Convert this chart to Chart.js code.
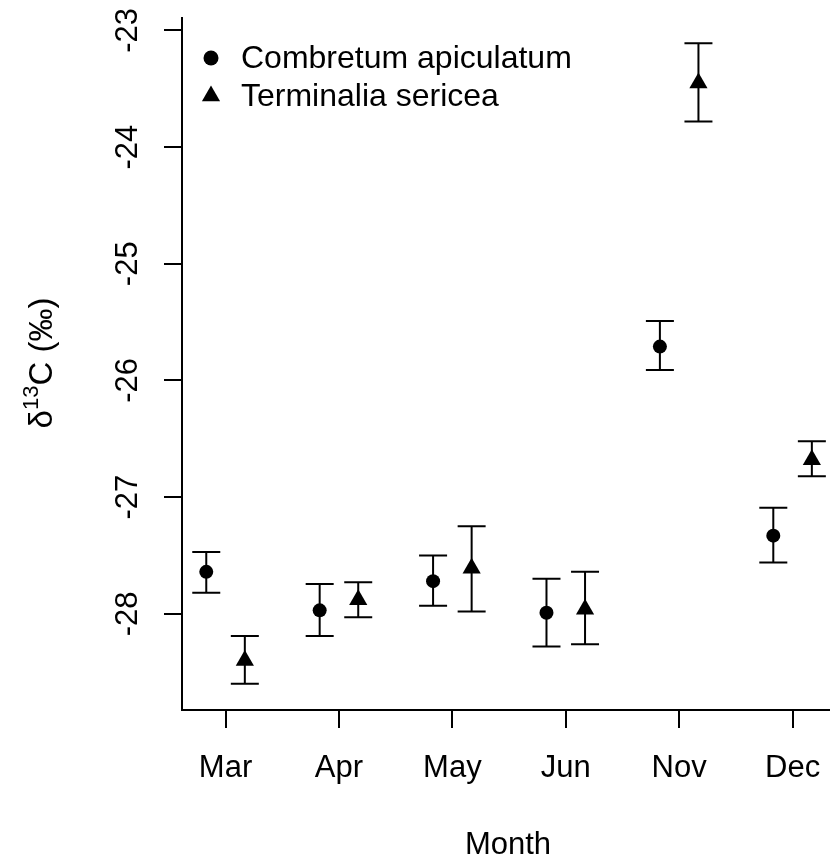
<!DOCTYPE html>
<html>
<head>
<meta charset="utf-8">
<script src="https://cdn.jsdelivr.net/npm/chart.js@4"></script>
<style>
  html, body { margin: 0; padding: 0; background: #fff; overflow: hidden; }
</style>
</head>
<body>
<canvas id="chart" width="830" height="857"></canvas>
<script>
const months = ["Mar", "Apr", "May", "Jun", "Nov", "Dec"];
const yTicks = [-28, -27, -26, -25, -24, -23];

// Combretum apiculatum
const combMean  = [-27.64, -27.97, -27.72, -27.99, -25.71, -27.33];
const combUpper = [-27.47, -27.745, -27.50, -27.70, -25.49, -27.09];
const combLower = [-27.82, -28.19, -27.93, -28.28, -25.91, -27.56];

// Terminalia sericea
const termMean  = [-28.40, -27.88, -27.61, -27.96, -23.45, -26.68];
const termUpper = [-28.19, -27.73, -27.25, -27.64, -23.11, -26.52];
const termLower = [-28.60, -28.03, -27.98, -28.26, -23.78, -26.82];

const seriesNames = ["Combretum apiculatum", "Terminalia sericea"];

const FONT = '"Liberation Sans", Arial, Helvetica, sans-serif';
const dodge = 0.17;

const combPts = combMean.map((v, i) => ({ x: i + 1 - dodge, y: v }));
const termPts = termMean.map((v, i) => ({ x: i + 1 + dodge, y: v }));

const errorBars = {
  id: "errorBars",
  beforeDatasetsDraw(chart) {
    const ctx = chart.ctx;
    const xs = chart.scales.x, ys = chart.scales.y;
    const sets = [
      [combLower, combUpper, -dodge],
      [termLower, termUpper, dodge],
    ];
    ctx.save();
    ctx.strokeStyle = "#000";
    ctx.lineWidth = 2;
    sets.forEach(([lo, hi, off]) => {
      lo.forEach((l, i) => {
        const px = xs.getPixelForValue(i + 1 + off);
        const p1 = ys.getPixelForValue(l);
        const p2 = ys.getPixelForValue(hi[i]);
        ctx.beginPath();
        ctx.moveTo(px, p1); ctx.lineTo(px, p2);
        ctx.moveTo(px - 14, p1); ctx.lineTo(px + 14, p1);
        ctx.moveTo(px - 14, p2); ctx.lineTo(px + 14, p2);
        ctx.stroke();
      });
    });
    ctx.restore();
  }
};

const labels = {
  id: "labels",
  afterDraw(chart) {
    const ctx = chart.ctx;
    const xs = chart.scales.x, ys = chart.scales.y;
    const area = chart.chartArea;
    ctx.save();
    ctx.fillStyle = "#000";
    ctx.font = "31px " + FONT;
    ctx.textBaseline = "alphabetic";
    ctx.textAlign = "center";

    // x tick labels
    months.forEach((m, i) => {
      ctx.fillText(m, xs.getPixelForValue(i + 1), 777);
    });

    // y tick labels, rotated like R
    yTicks.forEach(v => {
      ctx.save();
      ctx.translate(137, ys.getPixelForValue(v));
      ctx.rotate(-Math.PI / 2);
      ctx.fillText(String(v), 0, 0);
      ctx.restore();
    });

    // x title
    ctx.fillText("Month", 508, 854);

    // y title: delta 13 C (permil)
    const big = "33px " + FONT, small = "22px " + FONT;
    ctx.font = big;
    const w1 = ctx.measureText("\u03B4").width;
    const w3 = ctx.measureText("C (\u2030)").width;
    ctx.font = small;
    const w2 = ctx.measureText("13").width;
    const total = w1 + w2 + w3;
    ctx.save();
    ctx.translate(52, (area.top + area.bottom) / 2 - 1);
    ctx.rotate(-Math.PI / 2);
    ctx.textAlign = "left";
    let x0 = -total / 2;
    ctx.font = big;
    ctx.fillText("\u03B4", x0, 0);
    x0 += w1;
    ctx.font = small;
    ctx.fillText("13", x0, -14);
    x0 += w2;
    ctx.font = big;
    ctx.fillText("C (\u2030)", x0, 0);
    ctx.restore();

    // legend
    ctx.font = "32px " + FONT;
    ctx.textAlign = "left";
    ctx.beginPath();
    ctx.arc(211, 58, 7.5, 0, Math.PI * 2);
    ctx.fill();
    ctx.fillText(seriesNames[0], 241, 68);
    const r = 10.5, cx = 211, cy = 96;
    ctx.beginPath();
    ctx.moveTo(cx, cy - r);
    ctx.lineTo(cx + r * Math.sin(2 * Math.PI / 3), cy + r / 2);
    ctx.lineTo(cx - r * Math.sin(2 * Math.PI / 3), cy + r / 2);
    ctx.closePath();
    ctx.fill();
    ctx.fillText(seriesNames[1], 241, 106);
    ctx.restore();
  }
};

new Chart(document.getElementById("chart"), {
  type: "scatter",
  data: {
    datasets: [
      {
        label: seriesNames[0],
        data: combPts,
        pointStyle: "circle",
        pointRadius: 7,
        backgroundColor: "#000",
        borderWidth: 0,
      },
      {
        label: seriesNames[1],
        data: termPts,
        pointStyle: "triangle",
        pointRadius: 10.5,
        backgroundColor: "#000",
        borderWidth: 0,
      },
    ],
  },
  options: {
    responsive: false,
    animation: false,
    layout: { autoPadding: false, padding: { top: 18, left: 0, right: 0, bottom: 0 } },
    plugins: {
      legend: { display: false },
      tooltip: { enabled: false },
    },
    scales: {
      x: {
        type: "linear",
        min: 0.616,
        max: 6.33,
        afterBuildTicks: (s) => { s.ticks = months.map((m, i) => ({ value: i + 1 })); },
        afterFit: (s) => { s.height = 147; },
        ticks: { display: false },
        grid: { drawOnChartArea: false, drawTicks: true, tickLength: 18, lineWidth: 2, color: "#000" },
        border: { display: true, width: 2, color: "#000" },
      },
      y: {
        type: "linear",
        min: -28.824,
        max: -22.894,
        afterBuildTicks: (s) => { s.ticks = yTicks.map(v => ({ value: v })); },
        afterFit: (s) => { s.width = 182; },
        ticks: { display: false },
        grid: { drawOnChartArea: false, drawTicks: true, tickLength: 18, lineWidth: 2, color: "#000" },
        border: { display: true, width: 2, color: "#000" },
      },
    },
  },
  plugins: [errorBars, labels],
});
</script>
</body>
</html>
